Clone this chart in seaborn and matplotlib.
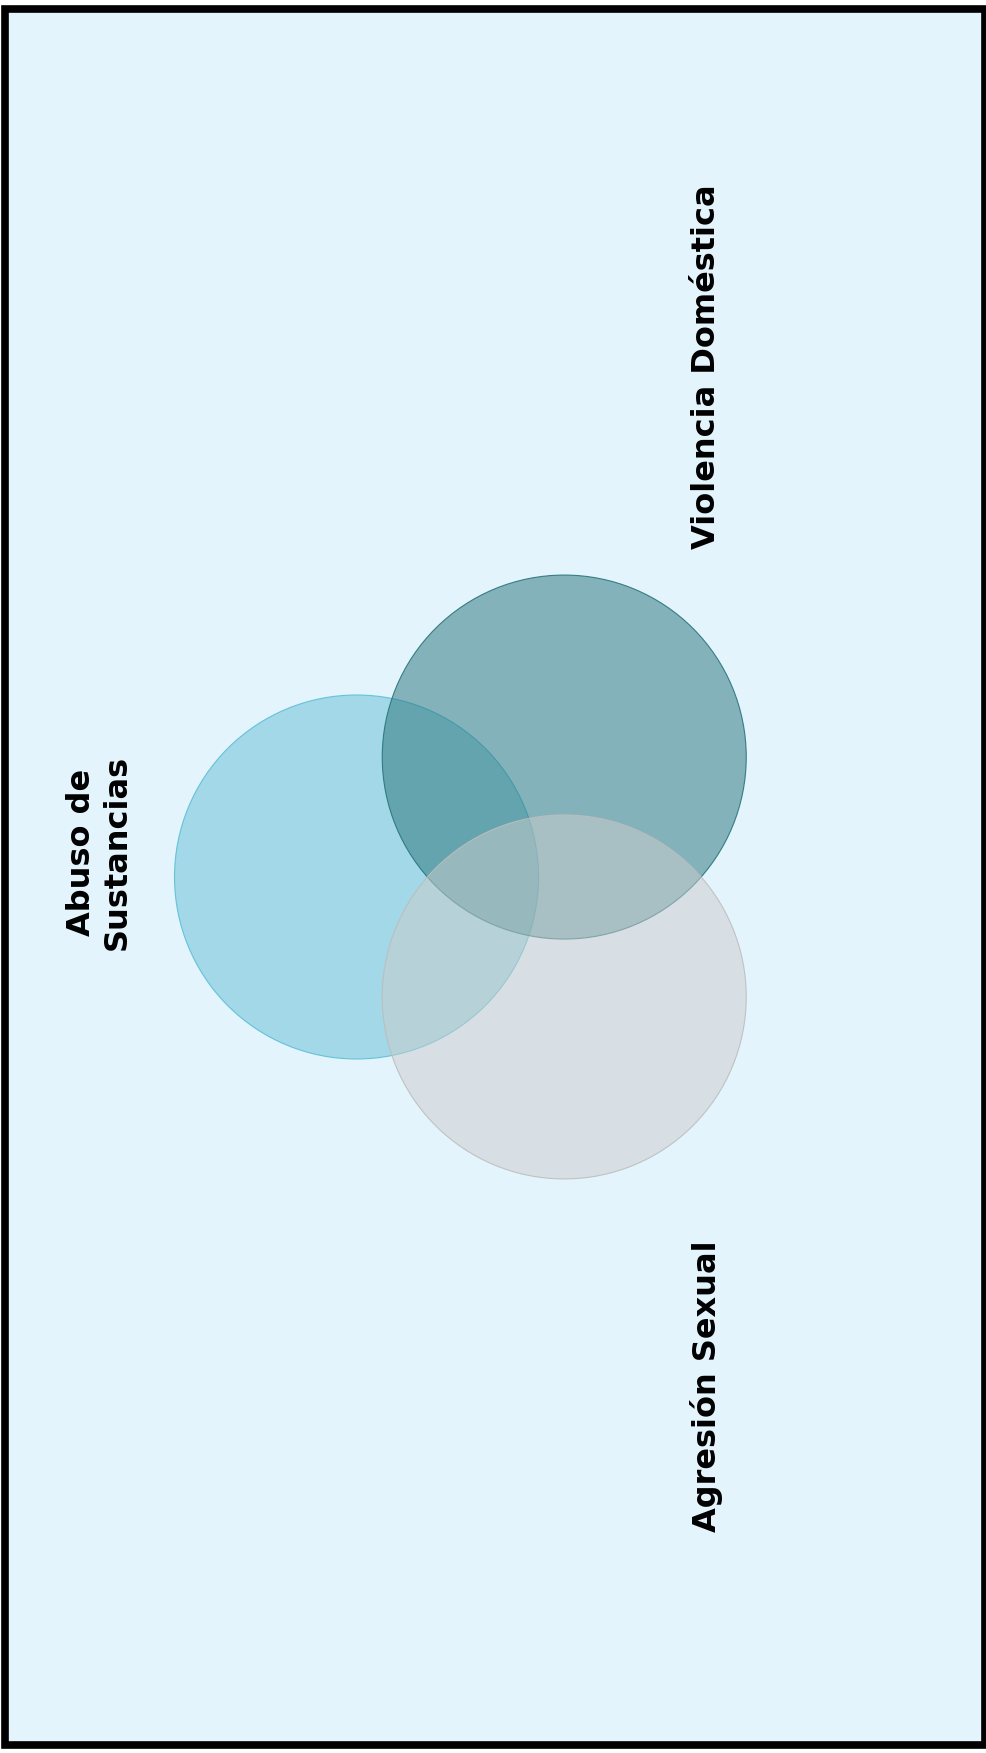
import numpy as np
import seaborn as sns
import matplotlib
matplotlib.use("Agg")
import matplotlib.pyplot as plt
from matplotlib.patches import Circle, Rectangle

# conjuntos del diagrama
conjuntos = ["Abuso de\nSustancias", "Violencia Doméstica", "Agresión Sexual"]
colores = ["#62bed3", "#267279", "#cccccc"]
bordes = ["#5bbfd6", "#2a747c", "#bdbdbd"]
radios = [1.0, 1.0, 1.0]
distancia = 1.318  # separación entre centros (en radios)

sns.set_theme(style="white")
plt.rcParams["font.family"] = ["DejaVu Sans"]

fig = plt.figure(figsize=(9.87, 17.53), dpi=100)
fig.patch.set_facecolor("white")
ax = fig.add_axes([0, 0, 1, 1])
ax.patch.set_alpha(0)

# marco negro con fondo
ax.add_patch(Rectangle((5.5 / 987, 8.5 / 1753), 980 / 987, 1736 / 1753,
                       transform=fig.transFigure, facecolor="#e3f4fd",
                       edgecolor="black", lw=5.5, zorder=0, clip_on=False))

# triangulo equilatero girado 90 grados
R = distancia / np.sqrt(3)
angulos = np.deg2rad([180, 60, -60])
centros = [(R * np.cos(a), R * np.sin(a)) for a in angulos]

for (cx, cy), r, c, b in zip(centros, radios, colores, bordes):
    ax.add_patch(Circle((cx, cy), r, facecolor=c, edgecolor="none", alpha=0.5, zorder=2))
    ax.add_patch(Circle((cx, cy), r, fill=False, edgecolor=b, alpha=0.9, lw=0.8, zorder=2))

posiciones = [(-2.175, 0.135), (1.16, 2.805), (1.16, -2.797)]
for (tx, ty), txt in zip(posiciones, conjuntos):
    ax.text(tx, ty, txt, rotation=90, ha="center", va="center", multialignment="center",
            fontsize=23, fontweight="bold", color="black", zorder=3)

esc = 182.0
ax.set_xlim(-495 / esc, (987 - 495) / esc)
ax.set_ylim(-(1753 - 877) / esc, 877 / esc)
ax.set_aspect("equal", adjustable="datalim")
ax.axis("off")

fig.savefig("out.png", dpi=100)
